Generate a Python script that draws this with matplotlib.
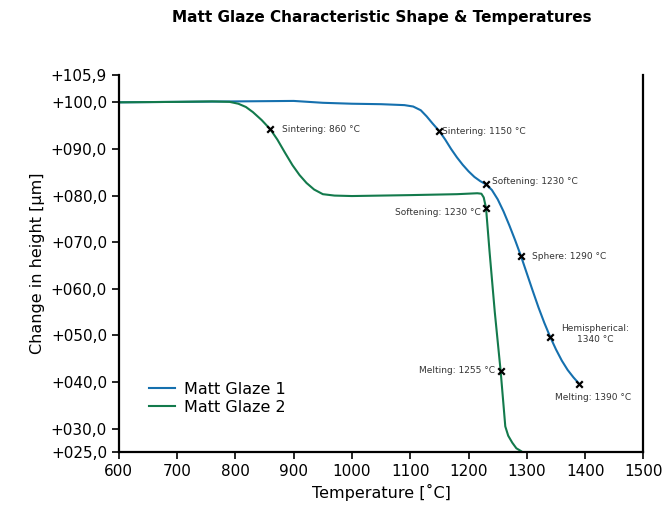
import matplotlib.pyplot as plt

# Matt Glaze 1 (blue)
temp1 = [600, 700, 800, 900, 950, 1000, 1050, 1090, 1105, 1118, 1128, 1138, 1150, 1160, 1170, 1180,
         1190, 1200, 1210, 1220, 1230, 1240, 1250, 1260, 1270, 1280, 1290, 1300, 1310, 1320, 1330,
         1340, 1350, 1360, 1370, 1380, 1390]
height1 = [100.0, 100.1, 100.2, 100.3, 99.9, 99.7, 99.6, 99.4, 99.1, 98.3, 97.0, 95.5, 93.8, 92.0,
           90.0, 88.2, 86.6, 85.2, 84.0, 83.1, 82.4, 81.2, 79.2, 76.6, 73.6, 70.4, 67.0, 63.3, 59.6,
           56.0, 52.7, 49.7, 47.0, 44.6, 42.6, 41.0, 39.6]

# Matt Glaze 2 (green)
temp2 = [600, 700, 760, 790, 805, 818, 830, 845, 860, 872, 885, 898, 910, 922, 935, 950, 970, 1000,
         1100, 1180, 1215, 1222, 1226, 1230, 1236, 1245, 1255, 1260, 1263, 1268, 1275, 1282, 1290]
height2 = [100.0, 100.1, 100.2, 100.1, 99.7, 99.0, 97.9, 96.2, 94.2, 92.0, 89.2, 86.5, 84.4, 82.7,
           81.3, 80.3, 80.0, 79.9, 80.1, 80.3, 80.5, 80.4, 79.6, 77.3, 68.0, 55.0, 42.4, 35.0, 30.5,
           28.5, 27.0, 25.8, 25.2]

# characteristic points
mark_x = [860, 1150, 1230, 1230, 1290, 1340, 1255, 1390]
mark_y = [94.2, 93.8, 82.4, 77.3, 67.0, 49.7, 42.4, 39.6]
mark_labels = ["Sintering: 860 °C", "Sintering: 1150 °C", "Softening: 1230 °C", "Softening: 1230 °C",
               "Sphere: 1290 °C", "Hemispherical:\n1340 °C", "Melting: 1255 °C", "Melting: 1390 °C"]
label_dx = [8, 2, 4, -4, 8, 8, -4, 10]
label_dy = [0, 0, 2, -3, 0, 2, 0, -10]
label_ha = ["left", "left", "left", "right", "left", "left", "right", "center"]

yticks = [25, 30, 40, 50, 60, 70, 80, 90, 100, 105.9]
ytick_labels = ["+025,0", "+030,0", "+040,0", "+050,0", "+060,0", "+070,0", "+080,0", "+090,0",
                "+100,0", "+105,9"]
xticks = [600, 700, 800, 900, 1000, 1100, 1200, 1300, 1400, 1500]

blue = "#1570ae"
green = "#137a4c"

fig = plt.figure(figsize=(6.64, 5.16), dpi=100)
ax = fig.add_axes([0.179, 0.124, 0.790, 0.731])

ax.plot(temp1, height1, color=blue, lw=1.5, label="Matt Glaze 1")
ax.plot(temp2, height2, color=green, lw=1.5, label="Matt Glaze 2")
ax.scatter(mark_x, mark_y, marker="x", color="black", s=22, lw=1.6, zorder=5)

for x, y, t, dx, dy, ha in zip(mark_x, mark_y, mark_labels, label_dx, label_dy, label_ha):
    ax.annotate(t, (x, y), xytext=(dx, dy), textcoords="offset points", ha=ha, va="center",
                fontsize=6.5, color="#333333", multialignment="center")

ax.set_xlim(600, 1500)
ax.set_ylim(25, 105.9)
ax.set_xticks(xticks)
ax.set_yticks(yticks)
ax.set_yticklabels(ytick_labels)
ax.tick_params(labelsize=11, length=5, width=1.2)
ax.spines["top"].set_visible(False)
for s in ["left", "bottom", "right"]:
    ax.spines[s].set_linewidth(1.6)

ax.set_xlabel("Temperature [˚C]", fontsize=11.5)
ax.set_ylabel("Change in height [µm]", fontsize=11.5)
fig.suptitle("Matt Glaze Characteristic Shape & Temperatures", fontsize=11, fontweight="bold",
             x=0.575, y=0.98)

ax.legend(loc="lower left", bbox_to_anchor=(0.03, 0.06), frameon=False, fontsize=11.5,
          handlelength=1.6, handletextpad=0.6, labelspacing=0.2)

fig.savefig("out.png", dpi=100)
